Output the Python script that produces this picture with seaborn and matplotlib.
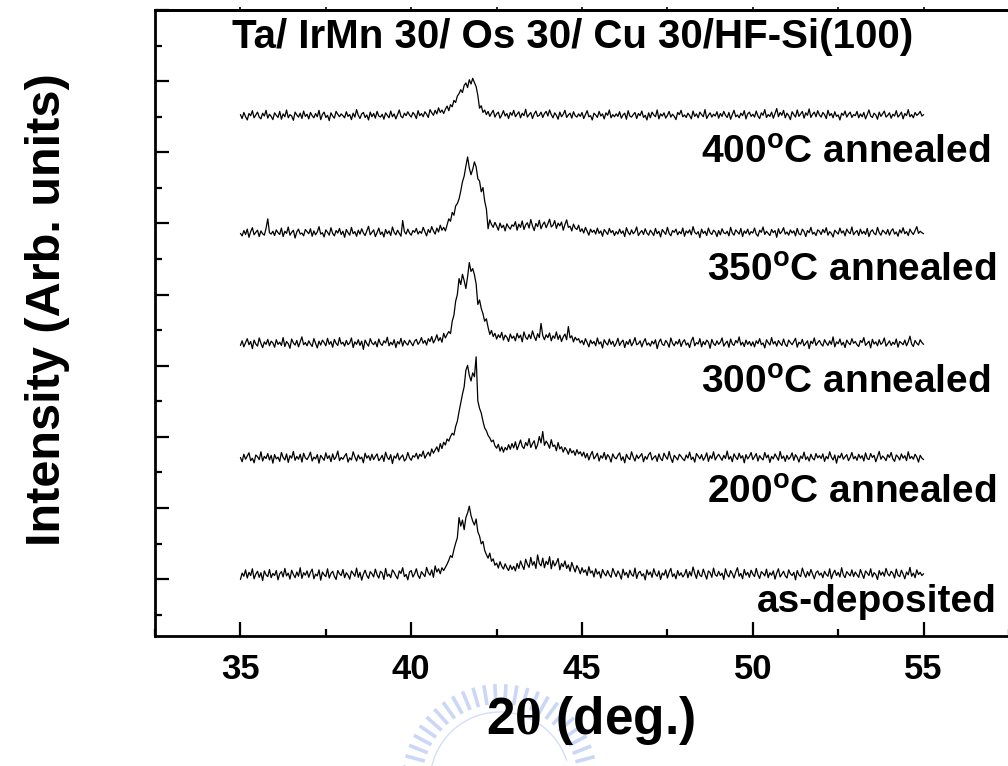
import numpy as np
import pandas as pd
import matplotlib
matplotlib.use("Agg")
import matplotlib.pyplot as plt
from matplotlib.ticker import MultipleLocator, NullFormatter
from matplotlib.lines import Line2D
import seaborn as sns

# Scan grid: 2-theta from 35 to 55 deg in 0.05 deg steps
two_theta = np.round(np.arange(35.0, 55.0001, 0.05), 2)

# Diffracted intensity (counts, arb. units); one row per degree of 2-theta
as_deposited = [
    88, 106, 97, 115, 92, 108, 99, 118, 90, 103, 111, 94, 107, 85, 112, 101, 96, 116, 93, 105,
    99, 113, 87, 104, 110, 95, 119, 98, 106, 89, 114, 102, 93, 109, 97, 121, 91, 107, 100, 112,
    94, 108, 117, 90, 103, 98, 115, 86, 109, 101, 96, 118, 92, 105, 111, 97, 88, 113, 104, 99,
    116, 93, 107, 100, 89, 112, 105, 97, 120, 94, 108, 86, 103, 114, 99, 91, 110, 104, 95, 117,
    101, 92, 111, 106, 88, 119, 97, 103, 93, 115, 108, 98, 90, 112, 105, 121, 96, 102, 87, 109,
    113, 95, 104, 118, 99, 91, 110, 103, 96, 122, 107, 100, 115, 94, 126, 109, 118, 104, 121, 113,
    122, 131, 142, 155, 150, 172, 190, 205, 262, 238, 255, 228, 262, 275, 294, 268, 252, 241, 258, 222,
    210, 188, 195, 170, 158, 148, 162, 139, 146, 128, 134, 120, 138, 125, 117, 132, 121, 113, 128, 116,
    125, 112, 133, 119, 140, 127, 116, 145, 131, 122, 150, 128, 138, 119, 157, 133, 126, 148, 121, 139,
    130, 152, 118, 141, 126, 135, 147, 115, 133, 124, 140, 119, 129, 111, 136, 122, 109, 127, 118, 104,
    121, 108, 115, 99, 124, 106, 112, 95, 118, 103, 110, 92, 116, 105, 98, 113, 101, 94, 119, 107,
    96, 112, 103, 89, 117, 100, 108, 93, 114, 102, 97, 120, 91, 106, 111, 98, 104, 87, 115, 101,
    109, 94, 118, 103, 97, 112, 88, 106, 100, 115, 92, 108, 119, 96, 104, 90, 113, 99, 107, 95,
    102, 116, 93, 110, 98, 123, 105, 91, 114, 100, 96, 117, 103, 89, 112, 107, 94, 120, 101, 97,
    111, 99, 106, 88, 118, 102, 95, 113, 104, 92, 109, 121, 97, 105, 90, 116, 100, 108, 94, 114,
    103, 96, 119, 101, 91, 110, 105, 98, 117, 93, 107, 100, 112, 89, 106, 118, 95, 103, 111, 98,
    92, 115, 104, 99, 108, 87, 113, 101, 96, 120, 105, 94, 110, 98, 116, 103, 90, 107, 112, 100,
    106, 93, 111, 102, 97, 118, 90, 105, 114, 99, 108, 95, 121, 101, 93, 110, 104, 98, 115, 96,
    109, 101, 94, 116, 103, 91, 112, 106, 99, 118, 95, 107, 102, 88, 113, 100, 109, 97, 119, 104,
    98, 111, 105, 92, 117, 100, 96, 114, 103, 90, 109, 101, 122, 97, 106, 93, 115, 102, 108, 99,
    104,
]

annealed_200 = [
    103, 91, 112, 98, 107, 116, 94, 101, 88, 110, 105, 97, 119, 93, 106, 100, 114, 96, 109, 87,
    111, 99, 104, 92, 117, 103, 96, 113, 89, 108, 101, 120, 95, 106, 98, 112, 90, 115, 102, 97,
    106, 118, 93, 104, 99, 111, 87, 109, 102, 95, 116, 100, 108, 91, 113, 97, 105, 121, 94, 103,
    98, 107, 114, 90, 102, 96, 119, 105, 93, 110, 99, 104, 88, 115, 101, 108, 95, 112, 97, 106,
    113, 94, 100, 109, 92, 118, 103, 97, 111, 86, 107, 101, 115, 96, 104, 110, 93, 99, 117, 102,
    95, 108, 104, 115, 99, 112, 106, 121, 101, 110, 118, 107, 127, 115, 124, 133, 119, 142, 128, 146,
    138, 155, 149, 162, 171, 166, 190, 205, 232, 256, 281, 302, 348, 362, 334, 318, 341, 330, 386, 262,
    241, 228, 205, 186, 178, 165, 158, 147, 152, 136, 129, 140, 121, 133, 118, 131, 124, 139, 126, 142,
    130, 147, 125, 138, 152, 134, 128, 145, 136, 156, 131, 142, 150, 127, 139, 162, 144, 176, 137, 149,
    141, 129, 153, 134, 138, 122, 145, 127, 133, 118, 131, 124, 112, 128, 116, 122, 109, 125, 113, 119,
    107, 118, 102, 114, 96, 110, 120, 99, 106, 115, 93, 108, 101, 117, 97, 111, 104, 90, 113, 103,
    99, 109, 116, 95, 105, 88, 112, 102, 97, 119, 104, 93, 110, 100, 107, 114, 91, 106, 98, 111,
    117, 96, 103, 108, 92, 113, 100, 94, 115, 105, 98, 120, 101, 89, 109, 103, 96, 112, 106, 99,
    94, 110, 101, 118, 97, 104, 90, 114, 107, 99, 111, 95, 103, 116, 92, 108, 100, 119, 96, 105,
    112, 103, 95, 109, 100, 121, 98, 106, 91, 113, 104, 97, 115, 101, 108, 88, 111, 99, 106, 117,
    97, 105, 114, 93, 108, 101, 96, 117, 102, 110, 89, 106, 99, 113, 104, 95, 120, 100, 107, 92,
    109, 98, 104, 116, 95, 111, 103, 90, 107, 100, 118, 97, 105, 93, 112, 101, 96, 114, 102, 108,
    100, 113, 92, 106, 99, 119, 104, 96, 110, 87, 108, 102, 115, 98, 105, 111, 94, 103, 117, 99,
    106, 95, 112, 101, 108, 93, 116, 100, 97, 114, 103, 109, 91, 105, 120, 98, 107, 102, 94, 111,
    103, 117, 99, 92, 110, 105, 96, 113, 101, 108, 94, 119, 100, 106, 98, 112, 104, 90, 109, 101,
    97,
]

annealed_300 = [
    97, 110, 93, 105, 116, 99, 108, 88, 112, 101, 95, 118, 103, 91, 107, 100, 114, 96, 109, 104,
    92, 113, 100, 106, 97, 119, 94, 108, 102, 89, 115, 104, 98, 111, 93, 107, 121, 99, 105, 96,
    110, 101, 94, 116, 103, 90, 109, 98, 112, 105, 96, 117, 100, 108, 92, 114, 103, 97, 119, 101,
    106, 95, 111, 99, 104, 118, 91, 107, 100, 113, 97, 109, 86, 112, 102, 95, 116, 104, 99, 108,
    93, 115, 102, 97, 110, 104, 120, 96, 106, 99, 113, 91, 108, 101, 117, 95, 111, 103, 98, 112,
    104, 96, 109, 114, 100, 107, 119, 103, 111, 98, 116, 108, 122, 104, 113, 127, 110, 119, 106, 131,
    118, 128, 136, 130, 165, 182, 221, 240, 285, 268, 297, 279, 257, 290, 330, 305, 313, 296, 270, 212,
    225, 201, 186, 165, 172, 148, 128, 139, 122, 131, 115, 127, 119, 134, 112, 126, 120, 108, 129, 117,
    123, 110, 131, 118, 126, 107, 135, 120, 114, 128, 116, 138, 122, 111, 130, 119, 159, 125, 113, 127,
    119, 132, 110, 124, 117, 135, 114, 126, 108, 121, 129, 113, 150, 118, 124, 107, 120, 112, 116, 104,
    111, 99, 116, 105, 93, 112, 102, 108, 96, 118, 101, 107, 90, 113, 104, 98, 115, 100, 109, 94,
    103, 117, 97, 106, 112, 91, 108, 100, 114, 96, 105, 119, 99, 102, 110, 93, 107, 116, 98, 104,
    95, 109, 101, 113, 88, 106, 115, 100, 97, 111, 104, 92, 118, 103, 96, 108, 101, 114, 94, 107,
    113, 98, 104, 91, 110, 120, 96, 105, 101, 116, 93, 108, 99, 112, 106, 89, 114, 102, 97, 110,
    100, 106, 118, 95, 103, 109, 92, 115, 101, 97, 111, 104, 121, 98, 106, 94, 112, 100, 108, 96,
    107, 93, 110, 102, 116, 99, 104, 90, 113, 105, 98, 119, 101, 108, 95, 111, 103, 97, 115, 100,
    94, 112, 105, 99, 108, 117, 92, 106, 101, 114, 96, 103, 110, 88, 109, 102, 118, 97, 105, 111,
    101, 95, 113, 104, 97, 110, 100, 121, 93, 107, 102, 115, 98, 106, 91, 112, 104, 99, 116, 103,
    108, 99, 94, 111, 105, 119, 97, 103, 109, 90, 114, 101, 107, 96, 113, 100, 105, 118, 95, 102,
    110, 97, 106, 100, 115, 92, 108, 104, 99, 112, 96, 107, 123, 101, 94, 111, 103, 98, 113, 105,
    100,
]

annealed_350 = [
    101, 94, 109, 98, 113, 90, 106, 117, 97, 104, 110, 92, 108, 100, 96, 115, 142, 103, 99, 107,
    95, 111, 103, 98, 116, 92, 107, 101, 119, 96, 104, 110, 88, 105, 113, 99, 102, 94, 112, 106,
    100, 114, 93, 108, 97, 105, 120, 99, 103, 91, 111, 104, 96, 117, 101, 94, 109, 102, 115, 98,
    107, 90, 112, 103, 96, 118, 100, 106, 93, 110, 99, 114, 102, 95, 108, 121, 97, 104, 111, 92,
    103, 116, 98, 105, 91, 112, 100, 108, 95, 119, 104, 97, 110, 101, 93, 137, 106, 99, 113, 102,
    96, 109, 104, 115, 99, 107, 101, 118, 106, 94, 112, 103, 120, 108, 99, 116, 105, 124, 110, 118,
    108, 125, 142, 135, 160, 152, 178, 185, 198, 220, 246, 262, 290, 316, 285, 266, 281, 302, 288, 255,
    248, 218, 230, 192, 170, 114, 139, 126, 118, 132, 122, 110, 130, 117, 124, 108, 128, 119, 113, 125,
    121, 134, 110, 127, 118, 136, 112, 125, 131, 116, 140, 122, 109, 129, 120, 138, 114, 126, 133, 117,
    128, 141, 119, 124, 137, 115, 130, 122, 133, 110, 126, 139, 118, 121, 108, 127, 116, 112, 124, 106,
    114, 102, 118, 107, 96, 113, 104, 110, 99, 116, 101, 108, 93, 112, 105, 98, 115, 103, 109, 95,
    106, 99, 113, 101, 108, 92, 117, 104, 97, 111, 100, 106, 119, 95, 103, 109, 98, 114, 102, 96,
    110, 103, 95, 115, 100, 107, 91, 112, 105, 98, 118, 101, 94, 109, 104, 113, 97, 106, 100, 116,
    93, 108, 102, 111, 97, 120, 104, 99, 106, 89, 113, 101, 107, 95, 116, 103, 98, 110, 105, 92,
    109, 97, 114, 103, 100, 107, 94, 118, 102, 96, 111, 105, 99, 115, 92, 108, 101, 113, 97, 106,
    102, 116, 99, 93, 110, 104, 119, 98, 107, 101, 95, 112, 103, 109, 90, 114, 100, 106, 117, 99,
    105, 96, 111, 102, 108, 94, 115, 100, 97, 113, 106, 92, 109, 103, 118, 99, 104, 95, 111, 107,
    98, 112, 103, 117, 96, 106, 101, 91, 110, 104, 99, 116, 102, 108, 94, 113, 105, 100, 119, 97,
    104, 109, 95, 113, 100, 107, 98, 115, 92, 106, 111, 101, 97, 118, 103, 96, 110, 105, 99, 112,
    96, 108, 114, 99, 105, 93, 111, 102, 117, 100, 106, 95, 113, 104, 98, 109, 120, 101, 107, 103,
    100,
]

annealed_400 = [
    106, 95, 112, 100, 91, 109, 103, 117, 97, 105, 113, 99, 94, 110, 102, 118, 96, 107, 101, 92,
    111, 104, 98, 115, 93, 108, 100, 119, 97, 106, 102, 90, 113, 105, 99, 110, 95, 116, 101, 107,
    94, 112, 103, 97, 109, 100, 118, 92, 106, 113, 98, 104, 89, 111, 102, 96, 115, 107, 100, 108,
    103, 97, 114, 101, 106, 92, 110, 99, 120, 104, 95, 108, 112, 98, 105, 91, 113, 100, 109, 96,
    115, 102, 99, 107, 93, 111, 104, 97, 116, 100, 108, 94, 106, 119, 101, 97, 110, 103, 114, 105,
    99, 112, 106, 95, 117, 103, 109, 100, 114, 107, 98, 120, 111, 104, 118, 108, 125, 112, 119, 109,
    121, 130, 117, 134, 128, 146, 140, 158, 165, 176, 168, 188, 195, 182, 204, 192, 208, 196, 185, 160,
    124, 131, 112, 119, 106, 115, 101, 110, 118, 99, 108, 113, 96, 105, 117, 102, 109, 95, 112, 104,
    118, 100, 107, 114, 97, 110, 103, 121, 99, 106, 112, 95, 108, 116, 101, 104, 113, 98, 109, 115,
    102, 119, 106, 97, 111, 104, 93, 113, 100, 107, 118, 98, 105, 110, 96, 114, 103, 99, 108, 101,
    112, 95, 106, 117, 100, 103, 91, 110, 105, 98, 115, 102, 108, 94, 111, 104, 119, 97, 106, 100,
    108, 101, 114, 96, 105, 110, 93, 117, 102, 99, 106, 112, 95, 109, 103, 116, 98, 104, 91, 111,
    97, 113, 105, 100, 119, 94, 108, 102, 111, 96, 104, 115, 99, 107, 101, 92, 112, 106, 118, 100,
    105, 98, 110, 103, 94, 116, 101, 108, 97, 113, 106, 100, 120, 95, 104, 111, 99, 107, 102, 114,
    96, 109, 101, 115, 104, 98, 112, 93, 106, 118, 100, 105, 97, 110, 103, 117, 94, 108, 113, 101,
    107, 99, 116, 102, 95, 111, 104, 120, 98, 106, 101, 113, 96, 109, 123, 100, 112, 104, 118, 97,
    110, 103, 92, 114, 106, 99, 119, 101, 108, 115, 96, 111, 104, 122, 98, 107, 113, 100, 117, 105,
    99, 112, 106, 95, 118, 103, 109, 97, 114, 101, 105, 91, 110, 104, 116, 99, 107, 113, 98, 106,
    103, 115, 97, 108, 100, 112, 94, 106, 119, 102, 98, 110, 105, 93, 113, 101, 108, 116, 99, 104,
    111, 96, 107, 102, 117, 99, 105, 113, 94, 109, 103, 120, 100, 106, 97, 112, 104, 108, 115, 102,
    106,
]

sample_labels = ["as-deposited", "200$^{\\mathbf{o}}$C annealed",
                 "300$^{\\mathbf{o}}$C annealed", "350$^{\\mathbf{o}}$C annealed",
                 "400$^{\\mathbf{o}}$C annealed"]
sample_series = [as_deposited, annealed_200, annealed_300, annealed_350, annealed_400]
for series in sample_series:
    assert len(series) == len(two_theta), len(series)

# vertical stacking of the patterns and placement of their captions
stack_offsets = [-89, 239, 560, 871, 1200]
label_anchor = [(57.14, -63), (57.14, 243), (56.95, 552), (57.14, 867), (56.95, 1198)]

sns.set_style("ticks")
plt.rcParams["font.family"] = ["Liberation Sans", "DejaVu Sans"]
plt.rcParams["font.weight"] = "bold"
plt.rcParams["mathtext.fontset"] = "custom"
plt.rcParams["mathtext.bf"] = "Liberation Sans:bold"
plt.rcParams["mathtext.rm"] = "Liberation Serif"
plt.rcParams["mathtext.it"] = "Liberation Serif:italic"
for key in ["text.color", "axes.labelcolor", "xtick.color", "ytick.color",
            "xtick.labelcolor", "ytick.labelcolor", "axes.edgecolor"]:
    plt.rcParams[key] = "black"

fig = plt.figure(figsize=(10.08, 7.66), dpi=100)

# faint blue seal printed behind the axis title
seal_color = (0.66, 0.74, 0.95)
cx, cy, r_out = 500 / 1008, 1 - 782 / 766, 98
for ang in np.arange(15, 172, 6.5):
    a = np.deg2rad(ang)
    r1, r2 = r_out - 20, r_out
    fig.add_artist(Line2D([cx + r1 * np.cos(a) / 1008, cx + r2 * np.cos(a) / 1008],
                          [cy + r1 * np.sin(a) / 766, cy + r2 * np.sin(a) / 766],
                          transform=fig.transFigure, color=seal_color,
                          linewidth=2.6, alpha=0.6, zorder=0,
                          solid_capstyle="butt"))
arc_a = np.deg2rad(np.linspace(18, 168, 60))
fig.add_artist(Line2D(cx + 70 * np.cos(arc_a) / 1008, cy + 70 * np.sin(arc_a) / 766,
                      transform=fig.transFigure, color=seal_color, linewidth=1.0,
                      alpha=0.5, zorder=0))

ax = fig.add_axes([0.1538, 0.1697, 0.8472, 0.8172])
ax.patch.set_alpha(0)

frames = []
for name, counts, off in zip(sample_labels, sample_series, stack_offsets):
    frames.append(pd.DataFrame({"two_theta": two_theta,
                                "shifted": np.asarray(counts, float) + off,
                                "sample": name}))
data = pd.concat(frames, ignore_index=True)

sns.lineplot(data=data, x="two_theta", y="shifted", hue="sample",
             palette=["black"] * len(sample_labels), linewidth=0.9,
             legend=False, ax=ax, estimator=None, sort=False)

for name, (lx, ly) in zip(sample_labels, label_anchor):
    ax.text(lx, ly, name, ha="right", va="center", fontsize=28,
            fontweight="bold", color="black")

ax.text(44.73, 1524, "Ta/ IrMn 30/ Os 30/ Cu 30/HF-Si(100)", ha="center",
        va="center", fontsize=29, fontweight="bold", color="black")

ax.set_xlim(32.5, 57.5)
ax.set_ylim(-160, 1600)
ax.xaxis.set_major_locator(MultipleLocator(5))
ax.xaxis.set_minor_locator(MultipleLocator(2.5))
ax.yaxis.set_major_locator(MultipleLocator(200))
ax.yaxis.set_minor_locator(MultipleLocator(100))
ax.yaxis.set_major_formatter(NullFormatter())
ax.set_xticks([35, 40, 45, 50, 55])
ax.set_xticklabels(["35", "40", "45", "50", "55"])

ax.tick_params(axis="both", which="major", direction="in", length=10, width=1.6,
               labelsize=25, pad=12, top=False, right=False, color="black",
               labelcolor="black")
ax.tick_params(axis="both", which="minor", direction="in", length=5, width=1.6,
               top=False, right=False, color="black")
for lab in ax.get_xticklabels():
    lab.set_fontweight("bold")

# short ticks standing on the top frame
top = ax.secondary_xaxis("top")
top.set_xticks(np.arange(35, 57.5, 2.5))
top.tick_params(direction="out", length=2.5, width=1.2, labeltop=False, color="black")
top.spines["top"].set_linewidth(2.0)
top.spines["top"].set_color("black")

for side in ["left", "bottom", "top"]:
    ax.spines[side].set_linewidth(2.0)
    ax.spines[side].set_color("black")
ax.spines["right"].set_visible(False)

ax.set_xlabel("2$\\mathrm{\\theta}$ (deg.)", fontsize=37, fontweight="bold",
              labelpad=6, color="black")
ax.xaxis.label.set_x(0.51)
ax.set_ylabel("Intensity (Arb. units)", fontsize=35, fontweight="bold",
              labelpad=49, color="black")
ax.yaxis.label.set_y(0.521)

fig.savefig("out.png", dpi=100)
